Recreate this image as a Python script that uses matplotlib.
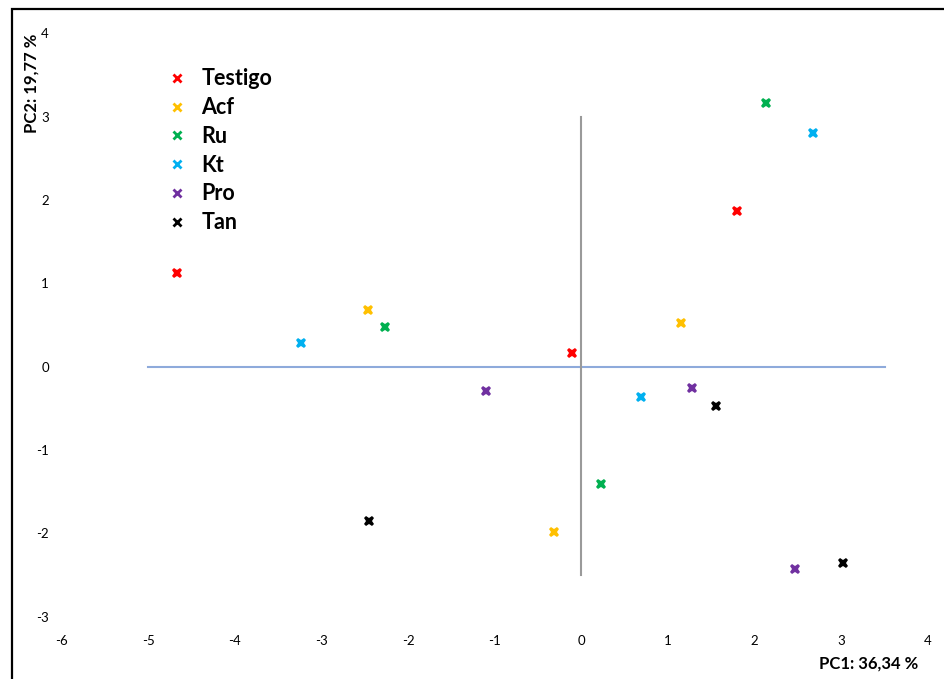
import matplotlib
matplotlib.use("Agg")
import matplotlib.pyplot as plt
from matplotlib.lines import Line2D
from matplotlib.patches import Rectangle

# PCA scores per treatment (PC1, PC2)
groups = ["Testigo", "Acf", "Ru", "Kt", "Pro", "Tan"]
colors = ["#FF0000", "#FFC000", "#00B050", "#00B0F0", "#7030A0", "#000000"]

testigo_pc1 = [-4.67, -0.11, 1.80]
testigo_pc2 = [1.13, 0.17, 1.87]
acf_pc1 = [-2.46, 1.15, -0.31]
acf_pc2 = [0.68, 0.53, -1.98]
ru_pc1 = [-2.27, 2.13, 0.23]
ru_pc2 = [0.48, 3.17, -1.41]
kt_pc1 = [-3.23, 2.67, 0.69]
kt_pc2 = [0.29, 2.81, -0.36]
pro_pc1 = [-1.10, 1.28, 2.47]
pro_pc2 = [-0.29, -0.25, -2.43]
tan_pc1 = [-2.45, 1.55, 3.02]
tan_pc2 = [-1.85, -0.47, -2.35]

pc1 = [testigo_pc1, acf_pc1, ru_pc1, kt_pc1, pro_pc1, tan_pc1]
pc2 = [testigo_pc2, acf_pc2, ru_pc2, kt_pc2, pro_pc2, tan_pc2]

# reference axes drawn as series
h_axis_x = [-5, 3.5]
h_axis_y = [0, 0]
v_axis_x = [0, 0]
v_axis_y = [3, -2.5]

x_ticks = [-6, -5, -4, -3, -2, -1, 0, 1, 2, 3, 4]
y_ticks = [-3, -2, -1, 0, 1, 2, 3, 4]

plt.rcParams['font.family'] = ['Lato', 'DejaVu Sans']

fig = plt.figure(figsize=(9.44, 6.79), dpi=100)
ax = fig.add_axes([0.0651, 0.0918, 0.9179, 0.8589])

ax.plot(h_axis_x, h_axis_y, color="#8EAADB", lw=1.5, zorder=1)
ax.plot(v_axis_x, v_axis_y, color="#9A9A9A", lw=1.5, zorder=1)

for name, c, xs, ys in zip(groups, colors, pc1, pc2):
    ax.plot(xs, ys, linestyle="none", marker="X", markersize=7.5,
            markeredgewidth=0, color=c, zorder=3)

ax.set_xlim(-6, 4)
ax.set_ylim(-3, 4)
ax.set_xticks(x_ticks)
ax.set_yticks(y_ticks)
ax.set_xticklabels([str(t) for t in x_ticks])
ax.set_yticklabels([str(t) for t in y_ticks])
ax.tick_params(axis="both", length=0, labelsize=9.5, colors="#000000")
ax.tick_params(axis="x", pad=13)
ax.tick_params(axis="y", pad=9)
for s in ax.spines.values():
    s.set_visible(False)

handles = [Line2D([], [], linestyle="none", marker="x", markersize=5.5,
                  markeredgewidth=2, color=c) for c in colors]
leg = ax.legend(handles, groups, loc="upper left",
                bbox_to_anchor=(0.111, 0.955), frameon=False,
                prop={"family": "Lato", "weight": "bold", "size": 15.5},
                handlelength=1.0, handletextpad=0.63, labelspacing=0.36,
                borderaxespad=0)

fig.text(0.9725, 0.0235, "PC1: 36,34 %", ha="right", va="center",
         fontsize=12, fontweight="bold")
fig.text(0.0335, 0.877, "PC2: 19,77 %", ha="center", va="center",
         rotation=90, fontsize=12, fontweight="bold")

# outer frame
fig.patches.append(Rectangle((11.5 / 944, -0.2), 1.2, (679 - 9) / 679 + 0.2,
                             transform=fig.transFigure, fill=False,
                             edgecolor="black", lw=1.6))

fig.savefig("out.png", dpi=100)
